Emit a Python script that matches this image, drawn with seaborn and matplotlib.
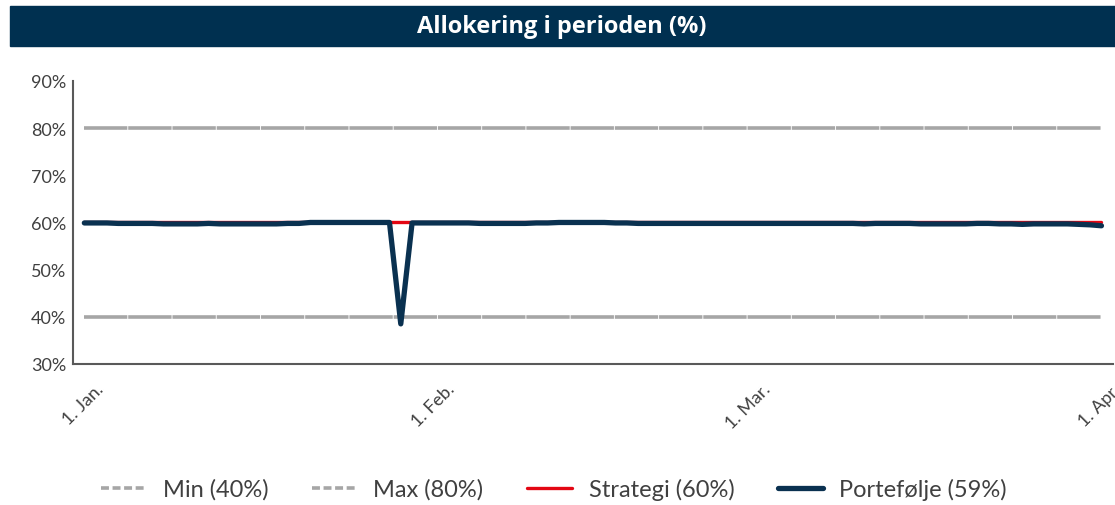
import pandas as pd
import seaborn as sns
import matplotlib.pyplot as plt
from matplotlib.patches import Rectangle

# Daily values, 31 Dec 2022 .. 31 Mar 2023
dates = pd.date_range('2022-12-31', '2023-03-31', freq='D')
portefolje = (
    [59.9]
    + [59.9, 59.9, 59.8, 59.8, 59.8, 59.8, 59.7, 59.7, 59.7, 59.7,
       59.8, 59.7, 59.7, 59.7, 59.7, 59.7, 59.7, 59.8, 59.8]
    + [60.0, 60.0, 60.0, 60.0, 60.0, 60.0, 60.0, 60.0]
    + [38.5]
    + [59.9, 59.9, 59.9]
    + [59.9, 59.9, 59.9, 59.8, 59.8, 59.8, 59.8, 59.8, 59.9, 59.9,
       60.0, 60.0, 60.0, 60.0, 60.0, 59.9, 59.9, 59.8, 59.8, 59.8,
       59.8, 59.8, 59.8, 59.8, 59.8, 59.8, 59.8, 59.8]
    + [59.8, 59.8, 59.8, 59.8, 59.8, 59.8, 59.8, 59.8, 59.8, 59.7,
       59.8, 59.8, 59.8, 59.8, 59.7, 59.7, 59.7, 59.7, 59.7, 59.8,
       59.8, 59.7, 59.7, 59.6, 59.7, 59.7, 59.7, 59.7, 59.6, 59.5, 59.3]
)
strategi = [60.0] * len(dates)
min_level = [40.0] * len(dates)
max_level = [80.0] * len(dates)

labels = ['Min (40%)', 'Max (80%)', 'Strategi (60%)', 'Portefølje (59%)']
tick_dates = ['2023-01-01', '2023-02-01', '2023-03-01', '2023-04-01']
tick_labels = ['1. Jan.', '1. Feb.', '1. Mar.', '1. Apr.']
y_ticks = [30, 40, 50, 60, 70, 80, 90]

sns.set_style('white')
plt.rcParams['font.family'] = ['Lato', 'DejaVu Sans']

fig = plt.figure(figsize=(11.15, 5.06), dpi=100)
ax = fig.add_axes([0.0655, 0.2787, 0.9325, 0.5593])

gray = '#a6a6a6'
sns.lineplot(x=dates, y=min_level, ax=ax, color=gray, lw=2.6, label=labels[0])
sns.lineplot(x=dates, y=max_level, ax=ax, color=gray, lw=2.6, label=labels[1])
sns.lineplot(x=dates, y=strategi, ax=ax, color='#e30613', lw=2.4, label=labels[2])
sns.lineplot(x=dates, y=portefolje, ax=ax, color='#0a3150', lw=3.8,
             label=labels[3])
for ln in ax.lines[:2]:
    ln.set_dashes((12, 0.25))

ax.set_xlim(pd.Timestamp('2022-12-30'), pd.Timestamp('2023-04-01'))
ax.set_ylim(30, 90)
ax.set_yticks(y_ticks)
ax.set_yticklabels([f'{v}%' for v in y_ticks])
ax.set_xticks(pd.to_datetime(tick_dates))
ax.set_xticklabels(tick_labels, rotation=45, ha='right', rotation_mode='anchor')
ax.set_xlabel('')
ax.set_ylabel('')

for side in ['top', 'right']:
    ax.spines[side].set_visible(False)
for side in ['left', 'bottom']:
    ax.spines[side].set_color('#595959')
    ax.spines[side].set_linewidth(1.5)
ax.tick_params(axis='y', direction='in', length=8, width=1.2, color='#595959',
               labelsize=13, labelcolor='#404040', pad=5)
ax.tick_params(axis='x', direction='in', length=4, width=0.8, color='#808080',
               labelsize=13, labelcolor='#404040', pad=12)

# Legend at the bottom
handles, _ = ax.get_legend_handles_labels()
ax.legend_.remove()
leg = fig.legend(handles, labels, loc='center', bbox_to_anchor=(0.497, 0.032),
                 ncol=4, frameon=False, fontsize=17, handlelength=1.9,
                 handletextpad=0.7, columnspacing=1.85, labelcolor='#404040')
for h in leg.legend_handles[:2]:
    h.set_dashes((2.2, 1))

# Title banner
fig.patches.append(Rectangle((10 / 1115, 1 - 47 / 506), 1 - 10 / 1115, 40 / 506,
                             transform=fig.transFigure, color='#003050',
                             zorder=0))
fig.text(0.504, 1 - 27 / 506, 'Allokering i perioden (%)', ha='center',
         va='center', color='white', fontsize=17, fontweight='bold',
         family=['Open Sans', 'DejaVu Sans'])

fig.savefig('out.png', dpi=100)
